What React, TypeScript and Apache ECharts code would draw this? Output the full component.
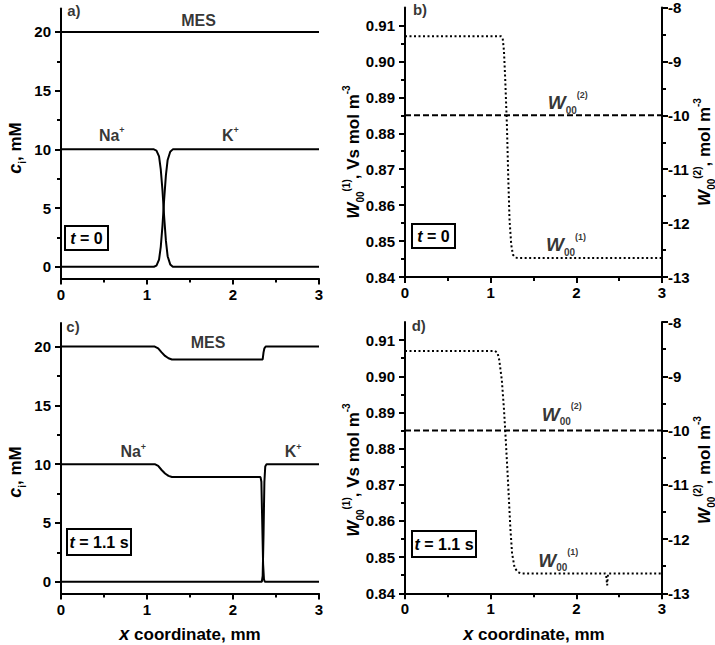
import React, { useEffect, useRef } from 'react';
import * as echarts from 'echarts';

const FONT = '"Liberation Sans", Arial, Helvetica, sans-serif';

// Axis ticks
const xTicks = [0, 1, 2, 3];
const xMinor = [0.5, 1.5, 2.5];
const cTicks = [0, 5, 10, 15, 20];
const cMinor = [2.5, 7.5, 12.5, 17.5];
const w1Ticks = [0.84, 0.85, 0.86, 0.87, 0.88, 0.89, 0.9, 0.91];
const w1Minor = [0.845, 0.855, 0.865, 0.875, 0.885, 0.895, 0.905];
const w2Ticks = [-13, -12, -11, -10, -9, -8];
const w2Minor = [-12.5, -11.5, -10.5, -9.5, -8.5];

// Panel a (t = 0): concentrations, mM
const aMES = [[0, 20], [3, 20]];
const aNa = [[0, 10], [1.08, 10], [1.11, 9.9], [1.14, 9.4], [1.16, 8.3], [1.18, 6.5], [1.2, 4.2], [1.22, 2.2], [1.24, 0.9], [1.27, 0.2], [1.3, 0], [3, 0]];
const aK = [[0, 0], [1.08, 0], [1.11, 0.1], [1.14, 0.6], [1.16, 1.7], [1.18, 3.5], [1.2, 5.8], [1.22, 7.8], [1.24, 9.1], [1.27, 9.8], [1.3, 10], [3, 10]];

// Panel b (t = 0)
const bW1 = [[0, 0.907], [1.12, 0.907], [1.14, 0.9065], [1.155, 0.903], [1.17, 0.895], [1.19, 0.882], [1.205, 0.868], [1.22, 0.856], [1.24, 0.849], [1.26, 0.8462], [1.29, 0.8454], [1.32, 0.8453], [3, 0.8453]];
const bW2 = [[0, -10], [3, -10]];

// Panel c (t = 1.1 s)
const cMES = [[0, 20], [1.09, 20], [1.13, 19.85], [1.17, 19.5], [1.21, 19.2], [1.25, 19.0], [1.29, 18.9], [2.345, 18.9], [2.355, 19.5], [2.365, 19.85], [2.38, 20], [3, 20]];
const cNa = [[0, 10], [1.09, 10], [1.13, 9.85], [1.17, 9.5], [1.21, 9.2], [1.25, 9.0], [1.29, 8.9], [2.32, 8.9], [2.33, 8.5], [2.34, 5], [2.35, 1.5], [2.36, 0.2], [2.37, 0], [3, 0]];
const cK = [[0, 0], [2.335, 0], [2.345, 0.5], [2.355, 4], [2.365, 8.5], [2.375, 9.8], [2.39, 10], [3, 10]];

// Panel d (t = 1.1 s)
const dW1 = [[0, 0.907], [1.05, 0.907], [1.08, 0.9065], [1.1, 0.9045], [1.13, 0.899], [1.155, 0.891], [1.17, 0.885], [1.2, 0.872], [1.23, 0.858], [1.25, 0.851], [1.28, 0.847], [1.32, 0.8458], [1.36, 0.8455], [2.34, 0.8455], [2.35, 0.8445], [2.36, 0.8422], [2.365, 0.844], [2.37, 0.8455], [3, 0.8455]];
const dW2 = [[0, -10], [3, -10]];

// Annotations (data coordinates + text)
const aNotes = [
  { value: [0.15, 21.85], text: '{p|a)}' },
  { value: [1.6, 21.0], text: '{b|MES}' },
  { value: [0.59, 11.2], text: '{b|Na}{sup|+}' },
  { value: [1.97, 11.2], text: '{b|K}{sup|+}' },
];
const bNotes = [
  { value: [0.175, 0.9145], text: '{p|b)}' },
  { value: [1.9, 0.8885], text: '{W|W}{sub|00}{sup|(2)}' },
  { value: [1.88, 0.849], text: '{W|W}{sub|00}{sup|(1)}' },
];
const cNotes = [
  { value: [0.14, 21.7], text: '{p|c)}' },
  { value: [1.71, 20.3], text: '{b|MES}' },
  { value: [0.84, 11.06], text: '{b|Na}{sup|+}' },
  { value: [2.7, 11.06], text: '{b|K}{sup|+}' },
];
const dNotes = [
  { value: [0.16, 0.914], text: '{p|d)}' },
  { value: [1.83, 0.8895], text: '{W|W}{sub|00}{sup|(2)}' },
  { value: [1.79, 0.8492], text: '{W|W}{sub|00}{sup|(1)}' },
];
// Time boxes: grid index, data position, text
const timeBoxes = [
  { grid: 0, yAxis: 0, value: [0.3, 2.47], text: '{t|t}{bt| = 0}', wide: false },
  { grid: 1, yAxis: 2, value: [0.335, 0.8515], text: '{t|t}{bt| = 0}', wide: false },
  { grid: 2, yAxis: 6, value: [0.44, 3.4], text: '{t|t}{bt| = 1.1 s}', wide: true },
  { grid: 3, yAxis: 8, value: [0.45, 0.8537], text: '{t|t}{bt| = 1.1 s}', wide: true },
];

const labelRich = {
  p: { fontSize: 15, fontWeight: 'bold', fontFamily: FONT, color: '#000' },
  b: { fontSize: 16, fontWeight: 'bold', fontFamily: FONT, color: '#000', lineHeight: 19 },
  sup: { fontSize: 9, fontWeight: 'bold', fontFamily: FONT, color: '#000', verticalAlign: 'top', lineHeight: 10 },
  sub: { fontSize: 10, fontWeight: 'bold', fontFamily: FONT, color: '#000', verticalAlign: 'bottom', lineHeight: 10 },
  W: { fontSize: 19, fontWeight: 'bold', fontStyle: 'italic', fontFamily: FONT, color: '#000', lineHeight: 25 },
};

const boxRich = {
  t: { fontSize: 16, fontWeight: 'bold', fontStyle: 'italic', fontFamily: FONT, fill: '#000' },
  bt: { fontSize: 16, fontWeight: 'bold', fontFamily: FONT, fill: '#000' },
};

const titleRich = {
  c: { fontSize: 18, fontWeight: 'bold', fontStyle: 'italic', fontFamily: FONT, fill: '#000', lineHeight: 24 },
  b: { fontSize: 17, fontWeight: 'bold', fontFamily: FONT, fill: '#000', lineHeight: 24 },
  W: { fontSize: 17, fontWeight: 'bold', fontStyle: 'italic', fontFamily: FONT, fill: '#000', lineHeight: 24 },
  sub: { fontSize: 10, fontWeight: 'bold', fontFamily: FONT, fill: '#000', verticalAlign: 'bottom', lineHeight: 10 },
  sup: { fontSize: 10, fontWeight: 'bold', fontFamily: FONT, fill: '#000', verticalAlign: 'top', lineHeight: 10 },
};

const AXC = '#000';
const tickLabel = { color: '#000', fontSize: 15, fontWeight: 'bold', fontFamily: FONT };

function xMain(gridIndex: number) {
  return {
    type: 'value', gridIndex, position: 'bottom', min: 0, max: 3,
    axisLine: { show: true, onZero: false, lineStyle: { color: AXC, width: 2 } },
    axisTick: { show: true, customValues: xTicks, length: 6, lineStyle: { color: AXC, width: 2 } },
    axisLabel: { ...tickLabel, customValues: xTicks, margin: 8 },
    splitLine: { show: false },
  };
}
function xMinorAx(gridIndex: number) {
  return {
    type: 'value', gridIndex, position: 'bottom', min: 0, max: 3,
    axisLine: { show: false, onZero: false },
    axisTick: { show: true, customValues: xMinor, length: 4, lineStyle: { color: AXC, width: 2 } },
    axisLabel: { show: false },
    splitLine: { show: false },
  };
}
function yMain(gridIndex: number, position: string, min: number, max: number, ticks: number[], fmt?: (v: number) => string) {
  return {
    type: 'value', gridIndex, position, min, max,
    axisLine: { show: true, onZero: false, lineStyle: { color: AXC, width: 2 } },
    axisTick: { show: true, customValues: ticks, length: 6, lineStyle: { color: AXC, width: 2 } },
    axisLabel: { ...tickLabel, customValues: ticks, margin: position === 'left' ? 10 : 6, formatter: fmt },
    splitLine: { show: false },
  };
}
function yMinorAx(gridIndex: number, position: string, min: number, max: number, ticks: number[]) {
  return {
    type: 'value', gridIndex, position, min, max,
    axisLine: { show: false, onZero: false },
    axisTick: { show: true, customValues: ticks, length: 4, lineStyle: { color: AXC, width: 2 } },
    axisLabel: { show: false },
    splitLine: { show: false },
  };
}

function line(data: number[][], xAxisIndex: number, yAxisIndex: number, type: any) {
  return {
    type: 'line', data, xAxisIndex, yAxisIndex, showSymbol: false, symbol: 'none',
    lineStyle: { color: '#000', width: 2, type, cap: 'butt' }, silent: true, z: 3,
  };
}
function notes(data: any[], xAxisIndex: number, yAxisIndex: number) {
  return {
    type: 'scatter', data, xAxisIndex, yAxisIndex, symbolSize: 0, silent: true, z: 5,
    itemStyle: { color: '#000' },
    label: {
      show: true, position: 'inside', formatter: (p: any) => p.data.text, rich: labelRich,
      color: '#000', textBorderWidth: 0,
    },
  };
}

const w1Fmt = (v: number) => v.toFixed(2);

export default function App() {
  const ref = useRef<HTMLDivElement>(null);
  useEffect(() => {
    if (!ref.current) return;
    const chart = echarts.init(ref.current, null, { renderer: 'svg' });
    const titles = [
      { type: 'text', x: 15, y: 148, rotation: Math.PI / 2, style: { text: '{c|c}{sub|i}{b|, mM}', rich: titleRich, align: 'center', verticalAlign: 'middle' } },
      { type: 'text', x: 15, y: 472, rotation: Math.PI / 2, style: { text: '{c|c}{sub|i}{b|, mM}', rich: titleRich, align: 'center', verticalAlign: 'middle' } },
      { type: 'text', x: 353, y: 152, rotation: Math.PI / 2, style: { text: '{W|W}{sub|00}{sup|(1)}{b|, Vs mol m}{sup|-3}', rich: titleRich, align: 'center', verticalAlign: 'middle' } },
      { type: 'text', x: 353, y: 470, rotation: Math.PI / 2, style: { text: '{W|W}{sub|00}{sup|(1)}{b|, Vs mol m}{sup|-3}', rich: titleRich, align: 'center', verticalAlign: 'middle' } },
      { type: 'text', x: 704, y: 152, rotation: Math.PI / 2, style: { text: '{W|W}{sub|00}{sup|(2)}{b|, mol m}{sup|-3}', rich: titleRich, align: 'center', verticalAlign: 'middle' } },
      { type: 'text', x: 704, y: 470, rotation: Math.PI / 2, style: { text: '{W|W}{sub|00}{sup|(2)}{b|, mol m}{sup|-3}', rich: titleRich, align: 'center', verticalAlign: 'middle' } },
      { type: 'text', x: 190, y: 634, style: { text: '{c|x}{b| coordinate, mm}', rich: titleRich, align: 'center', verticalAlign: 'middle' } },
      { type: 'text', x: 534, y: 634, style: { text: '{c|x}{b| coordinate, mm}', rich: titleRich, align: 'center', verticalAlign: 'middle' } },
    ];
    chart.setOption({
      animation: false,
      backgroundColor: '#fff',
      grid: [
        { left: 61, top: 8.5, width: 258, height: 270 },
        { left: 405, top: 7, width: 257, height: 270 },
        { left: 61, top: 323, width: 258, height: 270.5 },
        { left: 405, top: 322, width: 257, height: 271.3 },
      ],
      xAxis: [xMain(0), xMinorAx(0), xMain(1), xMinorAx(1), xMain(2), xMinorAx(2), xMain(3), xMinorAx(3)],
      yAxis: [
        yMain(0, 'left', -1, 22, cTicks), yMinorAx(0, 'left', -1, 22, cMinor),
        yMain(1, 'left', 0.84, 0.915, w1Ticks, w1Fmt), yMinorAx(1, 'left', 0.84, 0.915, w1Minor),
        yMain(1, 'right', -13, -8, w2Ticks), yMinorAx(1, 'right', -13, -8, w2Minor),
        yMain(2, 'left', -1, 22, cTicks), yMinorAx(2, 'left', -1, 22, cMinor),
        yMain(3, 'left', 0.84, 0.915, w1Ticks, w1Fmt), yMinorAx(3, 'left', 0.84, 0.915, w1Minor),
        yMain(3, 'right', -13, -8, w2Ticks), yMinorAx(3, 'right', -13, -8, w2Minor),
      ],
      series: [
        line(aMES, 0, 0, 'solid'), line(aNa, 0, 0, 'solid'), line(aK, 0, 0, 'solid'),
        line(bW1, 2, 2, [2, 2.5]), line(bW2, 2, 4, [6, 3]),
        line(cMES, 4, 6, 'solid'), line(cNa, 4, 6, 'solid'), line(cK, 4, 6, 'solid'),
        line(dW1, 6, 8, [2, 2.5]), line(dW2, 6, 10, [6, 3]),
        notes(aNotes, 0, 0), notes(bNotes, 2, 2), notes(cNotes, 4, 6), notes(dNotes, 6, 8),
      ],
      graphic: titles,
    });
    // Time boxes positioned through the axes' own scales
    const boxEls = timeBoxes.map((bx) => {
      const pt = chart.convertToPixel({ xAxisIndex: bx.grid * 2, yAxisIndex: bx.yAxis }, bx.value) as number[];
      const w = bx.wide ? 64 : 43;
      const h = bx.wide ? 26 : 24;
      const x0 = Math.round(pt[0] - w / 2);
      const y0 = Math.round(pt[1] - h / 2);
      return {
        type: 'group',
        z: 10,
        children: [
          { type: 'rect', shape: { x: x0, y: y0, width: w, height: h }, style: { fill: '#fff', stroke: '#000', lineWidth: 2 } },
          { type: 'text', x: x0 + w / 2, y: y0 + h / 2 + 0.5, style: { text: bx.text, rich: boxRich, align: 'center', verticalAlign: 'middle' } },
        ],
      };
    });
    chart.setOption({ graphic: [...titles, ...boxEls] });
    return () => chart.dispose();
  }, []);
  return <div ref={ref} style={{ position: 'absolute', left: 0, top: 0, width: 715, height: 645 }} />;
}
